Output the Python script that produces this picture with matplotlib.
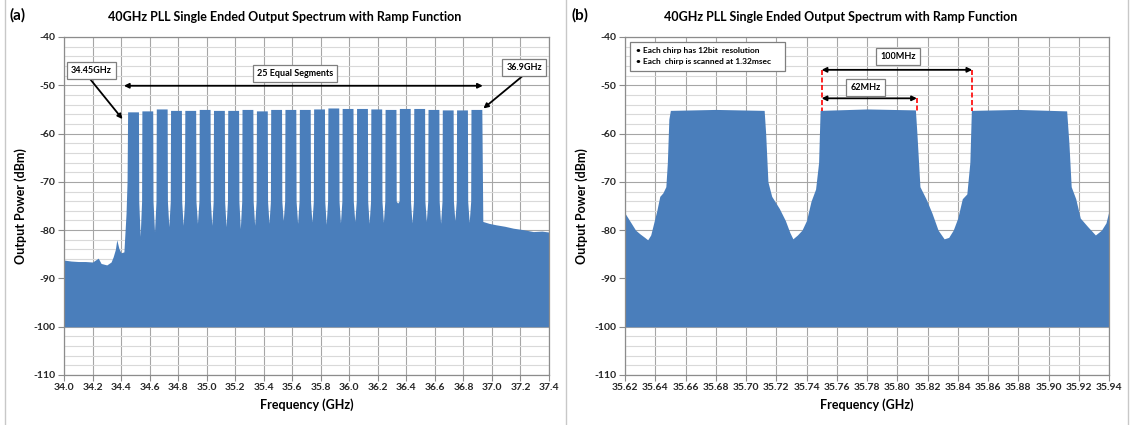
import matplotlib
matplotlib.use("Agg")
import matplotlib.pyplot as plt
from matplotlib.lines import Line2D
from matplotlib.patches import Rectangle
from matplotlib.ticker import MultipleLocator, FormatStrFormatter

plt.rcParams["font.family"] = ["Lato", "DejaVu Sans"]

BLUE = "#4a7ebb"
FLOOR = -100
TITLE = "40GHz PLL Single Ended Output Spectrum with Ramp Function"

# ---- panel (a): 34.0 - 37.4 GHz, 25 segments ----
a_pre_freq = [34.00, 34.05, 34.10, 34.15, 34.20, 34.24, 34.26, 34.30, 34.33,
              34.345, 34.36, 34.37, 34.385, 34.40, 34.42, 34.435, 34.442]
a_pre_level = [-86.2, -86.4, -86.5, -86.5, -86.6, -85.8, -86.9, -87.2, -86.6,
               -85.5, -84.0, -82.0, -83.8, -84.7, -84.5, -76.5, -70.0]
seg_start = [34.446, 34.546, 34.647, 34.747, 34.847, 34.948, 35.048, 35.148,
             35.248, 35.349, 35.449, 35.549, 35.650, 35.750, 35.850, 35.950,
             36.051, 36.151, 36.251, 36.351, 36.452, 36.552, 36.652, 36.752,
             36.853]
seg_end = [34.522, 34.622, 34.723, 34.823, 34.923, 35.024, 35.124, 35.224,
           35.324, 35.425, 35.525, 35.625, 35.726, 35.826, 35.926, 36.026,
           36.127, 36.227, 36.327, 36.427, 36.528, 36.628, 36.728, 36.828,
           36.929]
seg_top = [-55.5, -55.3, -54.9, -55.2, -55.2, -55.0, -55.2, -55.2, -55.0,
           -55.3, -55.0, -55.0, -55.0, -54.9, -54.7, -54.8, -54.8, -54.9,
           -55.0, -54.8, -54.8, -55.0, -55.1, -55.1, -55.0]
gap_floor = [-81.3, -80.3, -79.3, -79.0, -78.6, -79.0, -79.3, -79.7, -79.0,
             -78.6, -78.0, -78.6, -78.3, -78.8, -78.5, -78.2, -78.6, -78.4,
             -74.4, -78.5, -78.2, -78.6, -78.0, -78.4]
a_post_freq = [36.936, 36.98, 37.03, 37.09, 37.15, 37.22, 37.29, 37.35, 37.40]
a_post_level = [-78.2, -78.6, -78.9, -79.2, -79.6, -79.9, -80.3, -80.2, -80.4]

# ---- panel (b): zoom on three chirps ----
b_freq = [35.620, 35.623, 35.627, 35.630, 35.633, 35.635, 35.637, 35.639,
          35.641, 35.643, 35.645, 35.647, 35.648, 35.649, 35.650, 35.680,
          35.712, 35.713, 35.7145, 35.717, 35.722, 35.726, 35.729, 35.731,
          35.734, 35.737, 35.740, 35.743, 35.746, 35.748, 35.749, 35.780,
          35.812, 35.813, 35.815, 35.819, 35.823, 35.827, 35.831, 35.834,
          35.837, 35.840, 35.843, 35.846, 35.848, 35.849, 35.880, 35.912,
          35.9135, 35.915, 35.918, 35.921, 35.926, 35.931, 35.935, 35.938,
          35.940]
b_level = [-76.5, -78.0, -80.0, -80.8, -81.5, -82.0, -81.0, -78.5,
           -76.0, -73.0, -72.3, -71.0, -66.0, -57.0, -55.2, -55.0,
           -55.2, -60.0, -70.0, -73.0, -75.5, -78.0, -80.5, -81.8,
           -81.0, -80.0, -78.0, -74.0, -71.5, -66.0, -55.2, -54.9,
           -55.1, -60.0, -71.0, -73.5, -76.5, -80.0, -81.8, -81.5,
           -80.0, -77.5, -73.5, -72.5, -66.0, -55.2, -55.0, -55.3,
           -62.0, -71.0, -73.5, -77.5, -79.3, -81.0, -80.0, -78.5,
           -76.0]

a_ticks = [34.0, 34.2, 34.4, 34.6, 34.8, 35.0, 35.2, 35.4, 35.6, 35.8, 36.0,
           36.2, 36.4, 36.6, 36.8, 37.0, 37.2, 37.4]
b_ticks = [35.62, 35.64, 35.66, 35.68, 35.70, 35.72, 35.74, 35.76, 35.78,
           35.80, 35.82, 35.84, 35.86, 35.88, 35.90, 35.92, 35.94]
y_ticks = [-110, -100, -90, -80, -70, -60, -50, -40]

# envelope of panel (a) from the segment lists
ax_x = list(a_pre_freq)
ax_y = list(a_pre_level)
for i in range(len(seg_start)):
    ax_x += [seg_start[i], seg_end[i]]
    ax_y += [seg_top[i], seg_top[i]]
    if i < len(gap_floor):
        mid = (seg_end[i] + seg_start[i + 1]) / 2
        ax_x += [seg_end[i] + 0.002, mid, seg_start[i + 1] - 0.002]
        ax_y += [-74.0, gap_floor[i], -74.0]
ax_x += a_post_freq
ax_y += a_post_level

W, H = 1133, 425
fig = plt.figure(figsize=(W / 100, H / 100), dpi=100)
fig.patch.set_facecolor("white")

for xp in (5, 566, 1128):
    fig.add_artist(Line2D([xp / W, xp / W], [0, 1], color="#c8c8c8", lw=1.0))

axa = fig.add_axes([64 / W, 1 - 375 / H, (549 - 64) / W, (375 - 37) / H])
axb = fig.add_axes([625 / W, 1 - 375 / H, (1109 - 625) / W, (375 - 37) / H])


def style(ax, xticks, fmt):
    ax.set_ylim(-110, -40)
    ax.set_xlim(xticks[0], xticks[-1])
    ax.set_xticks(xticks)
    ax.set_yticks(y_ticks)
    ax.xaxis.set_major_formatter(FormatStrFormatter(fmt))
    ax.yaxis.set_major_formatter(FormatStrFormatter("%d"))
    ax.yaxis.set_minor_locator(MultipleLocator(2))
    ax.set_axisbelow(True)
    ax.grid(which="major", color="#a6a6a6", lw=0.8)
    ax.grid(which="minor", axis="y", color="#d9d9d9", lw=0.8)
    for s in ax.spines.values():
        s.set_color("#8c8c8c")
        s.set_linewidth(0.9)
    ax.tick_params(which="major", length=4, width=0.8, color="#8c8c8c",
                   labelsize=7.5, labelcolor="#262626", pad=2)
    ax.tick_params(which="minor", length=0)
    for lab in ax.get_xticklabels() + ax.get_yticklabels():
        lab.set_fontweight("bold")
    ax.set_xlabel("Frequency (GHz)", fontsize=9, fontweight="bold", labelpad=4)
    ax.set_ylabel("Output Power (dBm)", fontsize=9, fontweight="bold", labelpad=5)


style(axa, a_ticks, "%.1f")
style(axb, b_ticks, "%.2f")

axa.fill_between(ax_x, ax_y, FLOOR, color=BLUE, lw=0, zorder=2)
axb.fill_between(b_freq, b_level, FLOOR, color=BLUE, lw=0, zorder=2)

fig.text(10 / W, 1 - 15 / H, "(a)", fontsize=11, fontweight="bold", va="center")
fig.text(572 / W, 1 - 15 / H, "(b)", fontsize=11, fontweight="bold", va="center")
fig.text(285 / W, 1 - 17 / H, TITLE, fontsize=9, fontweight="bold", ha="center", va="center")
fig.text(841 / W, 1 - 17 / H, TITLE, fontsize=9, fontweight="bold", ha="center", va="center")

box = dict(boxstyle="square,pad=0.45", fc="white", ec="#7f7f7f", lw=0.9)
arrow1 = dict(arrowstyle="-|>", color="black", lw=1.3, mutation_scale=7, shrinkA=0, shrinkB=0)
arrow2 = dict(arrowstyle="<|-|>", color="black", lw=1.3, mutation_scale=7, shrinkA=0, shrinkB=0)
tkw = dict(fontsize=6.5, fontweight="bold", ha="center", va="center", zorder=5)

# annotations panel (a)
axa.annotate("", xy=(34.41, -57.0), xytext=(34.18, -48.6), arrowprops=arrow1, zorder=4)
axa.annotate("", xy=(36.94, -54.8), xytext=(37.21, -48.2), arrowprops=arrow1, zorder=4)
axa.annotate("", xy=(34.42, -50.1), xytext=(36.936, -50.1), arrowprops=arrow2, zorder=4)
axa.text(34.193, -47.0, "34.45GHz", bbox=box, **tkw)
axa.text(35.62, -47.6, "25 Equal Segments", bbox=box, **tkw)
axa.text(37.225, -46.35, "36.9GHz", bbox=box, **tkw)

# annotations panel (b)
axb.add_patch(Rectangle((35.6233, -47.0), 0.1027, 5.9, fc="white", ec="#7f7f7f", lw=0.9, zorder=4))
axb.text(35.6267, -42.7, "•", fontsize=6, fontweight="bold", va="center", zorder=5)
axb.text(35.6267, -45.1, "•", fontsize=6, fontweight="bold", va="center", zorder=5)
axb.text(35.6318, -42.7, "Each chirp has 12bit  resolution", fontsize=6, fontweight="bold", va="center", zorder=5)
axb.text(35.6318, -45.1, "Each  chirp is scanned at 1.32msec", fontsize=6, fontweight="bold", va="center", zorder=5)

for xr, ytop in ((35.750, -46.8), (35.8496, -46.8), (35.813, -52.7)):
    axb.plot([xr, xr], [ytop, -55.3], color="red", lw=1.2, ls=(0, (3, 1.5)), zorder=4)
axb.annotate("", xy=(35.750, -46.8), xytext=(35.8496, -46.8), arrowprops=arrow2, zorder=4)
axb.annotate("", xy=(35.750, -52.7), xytext=(35.813, -52.7), arrowprops=arrow2, zorder=4)
axb.text(35.8005, -44.0, "100MHz", bbox=box, **tkw)
axb.text(35.779, -50.5, "62MHz", bbox=box, **tkw)

fig.savefig("out.png", dpi=100)
